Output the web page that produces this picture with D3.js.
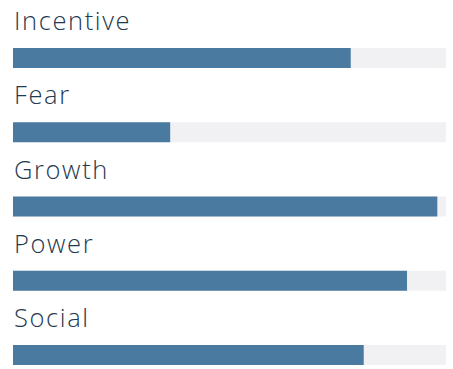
<!DOCTYPE html>
<html><head><meta charset="utf-8">
<script src="https://cdn.jsdelivr.net/npm/d3@7"></script>
<style>body{margin:0;background:#fff}</style>
</head><body>
<svg id="chart" width="453" height="369"></svg>
<script>
const categories = ["Incentive", "Fear", "Growth", "Power", "Social"];
const values = [78, 36.3, 98, 91, 81];
const maxValue = 100;

const svg = d3.select("#chart");
const x = d3.scaleLinear().domain([0, maxValue]).range([13, 446]);
const y = d3.scaleBand().domain(categories).range([0, 371.25]).paddingInner(0).paddingOuter(0);
const trackOffset = 48, trackH = 20;

const g = svg.selectAll("g.row").data(categories).enter().append("g").attr("class", "row")
  .attr("transform", d => `translate(0,${y(d)})`);

g.append("text")
  .attr("x", 14).attr("y", 30)
  .attr("font-family", "'Open Sans', sans-serif")
  .attr("font-weight", 300)
  .attr("font-size", 25.5)
  .attr("letter-spacing", 1.6)
  .style("font-variant-ligatures", "none")
  .attr("fill", "#1f3a4f")
  .text(d => d);

g.append("rect")
  .attr("x", x(0)).attr("y", trackOffset)
  .attr("width", x(maxValue) - x(0)).attr("height", trackH)
  .attr("fill", "#f1f1f4");

g.append("rect")
  .attr("x", x(0)).attr("y", trackOffset)
  .attr("width", (d, i) => x(values[i]) - x(0)).attr("height", trackH)
  .attr("fill", "#4a7aa0");
</script>
</body></html>
